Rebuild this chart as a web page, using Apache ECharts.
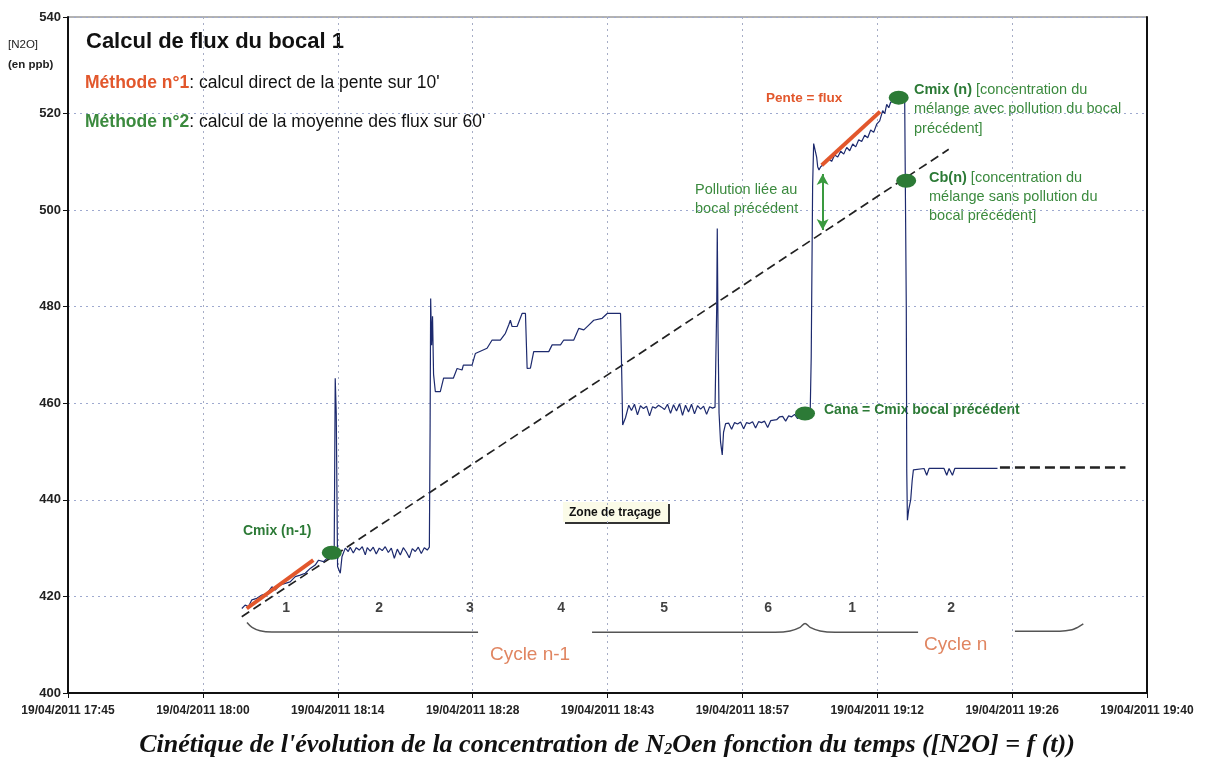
<!DOCTYPE html>
<html><head><meta charset="utf-8">
<script src="https://cdn.jsdelivr.net/npm/echarts@6/dist/echarts.min.js"></script>
<style>html,body{margin:0;padding:0;background:#fff}#c{width:1213px;height:758px}</style>
</head><body><div id="c"></div>
<script>
// x values: minutes after 19/04/2011 17:45
const xTickLabels = ['19/04/2011 17:45','19/04/2011 18:00','19/04/2011 18:14','19/04/2011 18:28','19/04/2011 18:43','19/04/2011 18:57','19/04/2011 19:12','19/04/2011 19:26','19/04/2011 19:40'];
const yTicks = [400, 420, 440, 460, 480, 500, 520, 540];

const traceMin = [
18.56,18.91,19.27,19.63,20.16,20.70,21.23,21.77,22.12,22.65,23.19,23.72,24.26,24.79,25.33,25.86,26.39,26.75,27.28,27.82,28.18,
28.42,28.53,28.64,28.78,29.07,29.25,29.60,
29.92,30.13,30.46,30.78,31.10,31.42,31.74,31.95,32.27,32.59,32.91,33.23,33.55,33.87,34.20,34.52,34.84,35.16,35.48,35.80,36.12,36.44,36.76,37.08,37.40,37.72,38.04,38.36,38.58,
38.66,38.72,38.82,38.92,39.03,39.22,
39.75,40.10,41.14,41.54,42.07,42.21,43.14,43.49,44.74,45.28,46.16,46.70,47.05,47.23,47.41,47.95,48.48,48.84,
49.02,49.37,49.72,51.33,51.69,52.58,52.93,54.00,54.53,55.07,55.60,56.13,57.03,57.57,58.99,
59.12,59.22,59.52,59.87,
60.16,60.48,60.80,61.12,61.44,61.77,62.09,62.41,62.73,63.05,63.37,63.69,64.01,64.33,64.65,64.97,65.29,65.61,65.93,66.25,66.57,66.89,67.21,67.54,67.86,68.18,68.50,68.82,69.08,
69.19,69.26,69.32,69.40,69.51,69.67,69.85,69.99,70.21,
70.53,70.85,71.17,71.49,71.81,72.13,72.45,72.77,73.09,73.41,73.73,74.05,74.37,74.70,75.02,75.34,75.66,75.98,76.30,76.62,76.94,77.26,77.58,77.90,78.22,78.54,78.86,79.24,
79.32,79.35,79.45,79.50,79.61,79.82,79.93,80.04,80.18,80.36,
80.89,81.21,81.53,81.85,82.18,82.50,82.82,83.14,83.46,83.78,84.10,84.42,84.74,85.06,85.38,85.70,86.02,86.34,86.66,86.98,87.20,87.41,87.63,87.84,88.37,88.91,89.33,
89.44,89.50,89.55,89.62,89.76,89.97,90.13,90.26,90.33,
91.40,91.68,91.93,93.53,93.82,94.07,94.43,94.68,99.24
];
const traceN2O = [
417.5,418.2,417.9,419.3,419.6,420.3,420.6,422.0,421.3,422.4,422.7,423.0,424.1,424.4,424.8,425.8,426.5,427.5,427.2,428.2,428.9,
429.0,465.2,458.0,426.2,424.8,428.2,430.0,
429.3,430.2,429.0,430.1,429.6,430.3,428.6,430.1,429.4,430.2,428.8,430.0,429.5,430.3,429.1,430.0,427.9,429.8,428.6,430.1,429.2,428.0,429.9,429.3,430.2,428.9,430.1,429.6,430.2,
455.0,481.7,472.0,478.0,466.0,462.4,
462.4,465.2,465.2,467.2,466.9,467.9,467.9,470.3,471.4,473.1,473.1,474.5,476.2,477.2,475.9,475.9,478.6,478.6,
467.2,467.3,470.7,470.7,472.1,472.1,473.1,473.1,475.5,475.2,476.2,477.2,477.6,478.6,478.6,
466.0,455.5,457.0,459.6,
458.5,459.8,457.6,459.5,458.9,459.4,457.4,459.3,459.0,459.6,459.2,458.7,459.8,457.9,459.7,458.4,459.9,457.5,459.6,458.2,459.8,457.8,459.5,458.8,459.4,457.7,459.3,459.0,459.2,
459.0,480.0,496.2,475.0,458.0,452.0,449.3,454.0,455.8,
455.9,454.6,456.0,455.7,456.1,454.7,456.0,455.8,456.2,454.9,456.2,456.0,456.3,455.0,456.4,456.5,456.6,457.2,457.3,456.3,457.4,457.2,457.7,456.8,457.8,457.9,458.0,458.1,
458.1,469.6,470.0,505.0,513.8,513.8,511.0,509.0,508.3,509.0,
509.8,510.6,510.1,511.4,511.0,512.2,511.6,513.0,512.3,513.7,513.1,514.6,514.2,515.5,515.0,516.6,516.1,517.8,518.5,520.6,520.0,521.9,521.2,522.4,522.4,522.6,522.6,
522.6,480.0,446.0,435.8,438.0,440.0,444.0,446.2,446.5,
446.5,445.1,446.5,446.5,445.1,446.5,445.1,446.5,446.5
];
// projected continuation (dashed)
const extMin = [99.5, 112.9];
const extN2O = [446.7, 446.7];
// baseline without pollution (dashed regression)
const regMin = [18.55, 94.03];
const regN2O = [415.8, 512.6];
// slopes (méthode n°1)
const slope1Min = [19.08, 26.19];
const slope1N2O = [417.5, 427.5];
const slope2Min = [80.47, 86.70];
const slope2N2O = [509.3, 520.4];
// key points: Cmix(n-1), Cana, Cmix(n), Cb(n)
const keyMin = [28.16, 78.69, 88.69, 89.49];
const keyN2O = [429.05, 457.9, 523.3, 506.1];
// pollution arrow
const pollMin = [80.57, 80.57];
const pollN2O = [507.5, 495.9];
// phase numbers
const phaseMin = [23.28, 33.21, 42.92, 52.64, 63.64, 74.74, 83.71, 94.28];
const phaseLabels = ['1','2','3','4','5','6','1','2'];
const phaseLevel = 417.6;
// braces
const braceMin = [19.11,19.65,20.50,21.78,43.78,null,55.95,75.49,77.09,78.16,78.69,79.23,80.30,81.90,90.76,null,101.1,105.9,107.2,107.8,108.4];
const braceN2O = [414.6,413.6,412.9,412.65,412.6,null,412.6,412.6,412.85,413.6,414.4,413.6,412.85,412.6,412.6,null,412.8,412.8,413.1,413.6,414.3];
const cycleMin = [49.33, 94.78];
const cycleN2O = [407.9, 409.9];
const cycleLabels = ['Cycle n-1', 'Cycle n'];

const zip = (a, b) => a.map((v, i) => (v === null ? [null, null] : [v, b[i]]));
const ORANGE = '#e2572c', GREEN = '#3b8a3e', DGREEN = '#2c7a36';
const SANS = '"Liberation Sans", Arial, sans-serif';

const chart = echarts.init(document.getElementById('c'), null, {renderer: 'canvas'});
chart.setOption({
  animation: false,
  backgroundColor: '#fff',
  grid: {left: 68, right: 66, top: 17, bottom: 65, show: true, borderColor: '#666', borderWidth: 1, backgroundColor: 'transparent'},
  xAxis: {
    type: 'value', min: 0, max: 115.2, interval: 14.4,
    axisLine: {onZero: false, lineStyle: {color: '#111', width: 2}},
    axisTick: {show: true, length: 5, lineStyle: {color: '#111'}},
    axisLabel: {margin: 12, fontFamily: SANS, fontSize: 12, fontWeight: 'bold', color: '#222',
      formatter: v => xTickLabels[Math.round(v / 14.4)] || ''},
    splitLine: {show: true, lineStyle: {color: '#a6adc6', type: [2, 4], width: 1}}
  },
  yAxis: [{
    type: 'value', min: yTicks[0], max: yTicks[yTicks.length - 1], interval: 20,
    axisLine: {onZero: false, lineStyle: {color: '#111', width: 2}},
    axisTick: {show: true, length: 5, lineStyle: {color: '#111'}},
    axisLabel: {margin: 7, fontFamily: SANS, fontSize: 13, fontWeight: 'bold', color: '#222'},
    splitLine: {show: true, lineStyle: {color: '#9ea9cf', type: [2, 4], width: 1}}
  }, {
    type: 'value', position: 'right', min: yTicks[0], max: yTicks[yTicks.length - 1], interval: 20,
    axisLine: {show: true, onZero: false, lineStyle: {color: '#111', width: 2}},
    axisTick: {show: false}, axisLabel: {show: false}, splitLine: {show: false}
  }],
  series: [
    {type: 'line', data: zip(regMin, regN2O), symbol: 'none', z: 3,
      lineStyle: {color: '#222', width: 1.7, type: [9, 5]}},
    {type: 'line', data: zip(traceMin, traceN2O), symbol: 'none', z: 4,
      lineStyle: {color: '#1d2a6e', width: 1.2}},
    {type: 'line', data: zip(extMin, extN2O), symbol: 'none', z: 4,
      lineStyle: {color: '#222', width: 2.6, type: [10, 5]}},
    {type: 'line', data: zip(slope1Min, slope1N2O), symbol: 'none', z: 5,
      lineStyle: {color: ORANGE, width: 4}},
    {type: 'line', data: zip(slope2Min, slope2N2O), symbol: 'none', z: 5,
      lineStyle: {color: ORANGE, width: 4}},
    {type: 'scatter', data: zip(keyMin, keyN2O), symbol: 'circle', symbolSize: [20, 14], z: 6,
      itemStyle: {color: DGREEN, opacity: 1}},
    {type: 'line', data: zip(pollMin, pollN2O), symbol: 'none', z: 5, lineStyle: {width: 0, opacity: 0},
      markLine: {silent: true, symbol: ['arrow', 'arrow'], symbolSize: [9, 11], label: {show: false},
        lineStyle: {color: '#3a9a3f', width: 2, type: 'solid'},
        data: [[{coord: [pollMin[0], pollN2O[0]]}, {coord: [pollMin[1], pollN2O[1]]}]]}},
    {type: 'line', data: zip(braceMin, braceN2O), symbol: 'none', smooth: 0.35, connectNulls: false, z: 3,
      lineStyle: {color: '#555', width: 1.5}},
    {type: 'scatter', data: phaseMin.map((m, i) => [m, phaseLevel]), symbolSize: 0, z: 6,
      label: {show: true, position: 'inside', formatter: p => phaseLabels[p.dataIndex],
        fontFamily: SANS, fontSize: 14, fontWeight: 'bold', color: '#111'}},
    {type: 'scatter', data: zip(cycleMin, cycleN2O), symbolSize: 0, z: 6,
      label: {show: true, position: 'inside', formatter: p => cycleLabels[p.dataIndex],
        fontFamily: '"Liberation Sans Narrow", ' + SANS, fontSize: 19, color: '#d8663a'}}
  ],
  graphic: [
    {type: 'text', left: 8, top: 39, style: {text: '[N2O]', font: '11.5px ' + SANS, fill: '#222'}},
    {type: 'text', left: 8, top: 59, style: {text: '(en ppb)', font: 'bold 11.5px ' + SANS, fill: '#222'}},
    {type: 'text', left: 86, top: 31, style: {text: 'Calcul de flux du bocal 1', font: 'bold 22px ' + SANS, fill: '#111'}},
    {type: 'text', left: 85, top: 74, style: {text: '{a|Méthode n°1}{b|: calcul direct de la pente sur 10\'}',
      rich: {a: {font: 'bold 17.5px ' + SANS, fill: ORANGE}, b: {font: '17.5px ' + SANS, fill: '#111'}}}},
    {type: 'text', left: 85, top: 113, style: {text: '{a|Méthode n°2}{b|: calcul de la moyenne des flux sur 60\'}',
      rich: {a: {font: 'bold 17.5px ' + SANS, fill: GREEN}, b: {font: '17.5px ' + SANS, fill: '#111'}}}},
    {type: 'text', left: 766, top: 91, style: {text: 'Pente = flux', font: 'bold 13.5px ' + SANS, fill: ORANGE}},
    {type: 'text', left: 914, top: 82, style: {text: '{a|Cmix (n)}{b| [concentration du}\n{b|mélange avec pollution du bocal}\n{b|précédent]}',
      rich: {a: {font: 'bold 14.5px ' + SANS, fill: DGREEN, lineHeight: 19.5}, b: {font: '14.5px ' + SANS, fill: GREEN, lineHeight: 19.5}}}},
    {type: 'text', left: 929, top: 170, style: {text: '{a|Cb(n)}{b| [concentration du}\n{b|mélange sans pollution du}\n{b|bocal précédent]}',
      rich: {a: {font: 'bold 14.5px ' + SANS, fill: DGREEN, lineHeight: 19}, b: {font: '14.5px ' + SANS, fill: GREEN, lineHeight: 19}}}},
    {type: 'text', left: 695, top: 180, style: {text: 'Pollution liée au\nbocal précédent', font: '14.5px ' + SANS, fill: GREEN, lineHeight: 19}},
    {type: 'text', left: 243, top: 524, style: {text: 'Cmix (n-1)', font: 'bold 14px ' + SANS, fill: DGREEN}},
    {type: 'text', left: 824, top: 403, style: {text: 'Cana = Cmix bocal précédent', font: 'bold 14px ' + SANS, fill: DGREEN}},
    {type: 'group', left: 563, top: 502, children: [
      {type: 'rect', shape: {x: 2, y: 2, width: 105, height: 20}, style: {fill: '#333'}},
      {type: 'rect', shape: {x: 0, y: 0, width: 105, height: 20}, style: {fill: '#fbfbe8'}},
      {type: 'text', x: 52, y: 11, style: {text: 'Zone de traçage', font: 'bold 12px ' + SANS, fill: '#111', align: 'center', verticalAlign: 'middle'}}
    ]},
    {type: 'text', x: 607, y: 745, style: {
      text: '{t|Cinétique de l\'évolution de la concentration de N}{s|2}{t|Oen fonction du temps ([N2O] = f (t))}',
      align: 'center', verticalAlign: 'middle',
      rich: {t: {font: 'italic bold 26px "Liberation Serif", "Times New Roman", serif', fill: '#111'},
             s: {font: 'italic bold 16px "Liberation Serif", "Times New Roman", serif', fill: '#111', verticalAlign: 'bottom', padding: [10, 0, 0, 0]}}}}
  ]
});
</script></body></html>
